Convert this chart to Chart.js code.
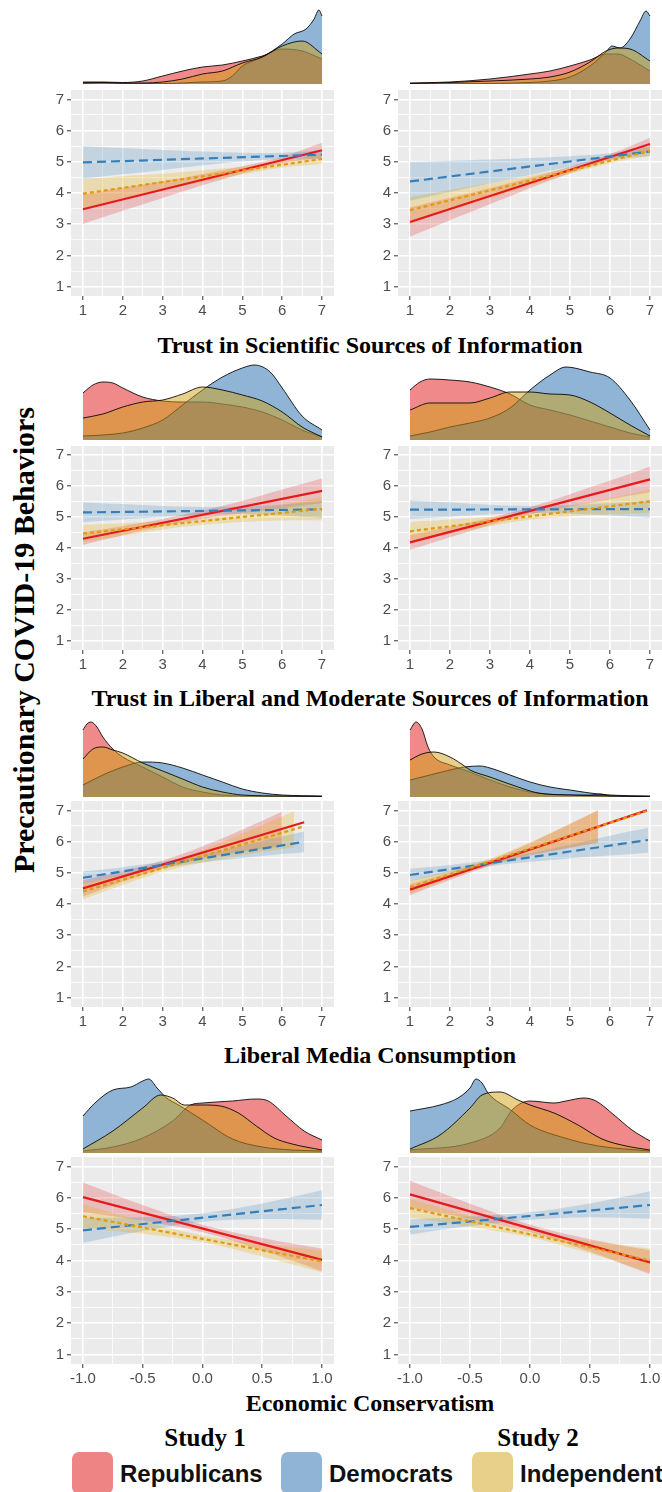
<!DOCTYPE html>
<html>
<head>
<meta charset="utf-8">
<script src="https://cdn.jsdelivr.net/npm/chart.js@4.4.1/dist/chart.umd.min.js"></script>
<style>
  html, body { margin: 0; padding: 0; background: #ffffff; }
  body { width: 662px; height: 1492px; position: relative; overflow: hidden; }
  canvas { position: absolute; }
  .ttl { position: absolute; white-space: nowrap; transform: translate(-50%, -50%);
         font-family: "Liberation Serif", "Times New Roman", serif; font-weight: bold;
         color: #000; line-height: 1; }
  .ytitle { transform: translate(-50%, -50%) rotate(-90deg); }
  .key { position: absolute; width: 41px; height: 42px; border-radius: 7px; }
  .keylab { position: absolute; white-space: nowrap; transform: translateY(-50%);
            font-family: "Liberation Sans", Arial, sans-serif; font-weight: bold;
            font-size: 24px; line-height: 1; color: #111; }
</style>
</head>
<body>
<script>
// ---------- axis ticks ----------
const trustTicks = [1, 2, 3, 4, 5, 6, 7];
const econTicks = [-1, -0.5, 0, 0.5, 1];
const outcomeTicks = [1, 2, 3, 4, 5, 6, 7];
const groups = ['Republicans', 'Democrats', 'Independent'];

// ---------- fitted lines [x, y] and confidence bands [x, lower, upper] ----------
// Trust in scientific sources, Study 1
const sci1RepFit = [[1, 3.48], [7, 5.37]];
const sci1RepBand = [[1, 3.01, 3.95], [2, 3.43, 4.17], [3, 3.84, 4.38], [4, 4.25, 4.61], [5, 4.62, 4.86], [6, 4.96, 5.16], [7, 5.13, 5.61]];
const sci1DemFit = [[1, 4.98], [7, 5.23]];
const sci1DemBand = [[1, 4.46, 5.50], [2, 4.60, 5.44], [3, 4.74, 5.38], [4, 4.89, 5.33], [5, 5.01, 5.29], [6, 5.09, 5.29], [7, 5.09, 5.37]];
const sci1IndFit = [[1, 3.98], [7, 5.09]];
const sci1IndBand = [[1, 3.51, 4.45], [2, 3.80, 4.54], [3, 4.08, 4.62], [4, 4.35, 4.73], [5, 4.60, 4.84], [6, 4.82, 5.00], [7, 4.94, 5.24]];
// Trust in scientific sources, Study 2
const sci2RepFit = [[1, 3.07], [7, 5.57]];
const sci2RepBand = [[1, 2.60, 3.54], [2, 3.13, 3.85], [3, 3.64, 4.16], [4, 4.15, 4.49], [5, 4.63, 4.85], [6, 5.06, 5.24], [7, 5.37, 5.77]];
const sci2DemFit = [[1, 4.37], [7, 5.33]];
const sci2DemBand = [[1, 3.75, 4.99], [2, 4.03, 5.03], [3, 4.31, 5.07], [4, 4.58, 5.12], [5, 4.84, 5.18], [6, 5.07, 5.27], [7, 5.18, 5.48]];
const sci2IndFit = [[1, 3.45], [7, 5.35]];
const sci2IndBand = [[1, 3.03, 3.87], [2, 3.44, 4.10], [3, 3.84, 4.32], [4, 4.24, 4.56], [5, 4.62, 4.82], [6, 4.95, 5.11], [7, 5.20, 5.50]];
// Trust in liberal and moderate sources, Study 1
const lib1RepFit = [[1, 4.30], [7, 5.85]];
const lib1RepBand = [[1, 4.10, 4.50], [2, 4.41, 4.71], [3, 4.70, 4.94], [4, 4.95, 5.21], [5, 5.13, 5.53], [6, 5.29, 5.89], [7, 5.45, 6.25]];
const lib1DemFit = [[1, 5.15], [7, 5.25]];
const lib1DemBand = [[1, 4.83, 5.47], [2, 4.92, 5.42], [3, 5.00, 5.36], [4, 5.07, 5.33], [5, 5.10, 5.34], [6, 5.05, 5.41], [7, 4.97, 5.53]];
const lib1IndFit = [[1, 4.47], [7, 5.27]];
const lib1IndBand = [[1, 4.19, 4.75], [2, 4.40, 4.80], [3, 4.60, 4.88], [4, 4.75, 4.99], [5, 4.84, 5.16], [6, 4.89, 5.39], [7, 4.89, 5.65]];
// Trust in liberal and moderate sources, Study 2
const lib2RepFit = [[1, 4.18], [7, 6.22]];
const lib2RepBand = [[1, 3.94, 4.42], [2, 4.35, 4.69], [3, 4.74, 4.98], [4, 5.08, 5.32], [5, 5.34, 5.74], [6, 5.58, 6.18], [7, 5.80, 6.64]];
const lib2DemFit = [[1, 5.24], [7, 5.26]];
const lib2DemBand = [[1, 4.94, 5.54], [2, 5.01, 5.47], [3, 5.08, 5.40], [4, 5.13, 5.36], [5, 5.11, 5.39], [6, 5.05, 5.45], [7, 4.98, 5.54]];
const lib2IndFit = [[1, 4.54], [7, 5.51]];
const lib2IndBand = [[1, 4.24, 4.84], [2, 4.48, 4.92], [3, 4.71, 5.01], [4, 4.91, 5.15], [5, 5.02, 5.36], [6, 5.09, 5.61], [7, 5.13, 5.89]];
// Liberal media consumption, Study 1
const med1RepFit = [[1, 4.50], [6.55, 6.62]];
const med1RepBand = [[1, 4.24, 4.76], [2, 4.71, 5.05], [3, 5.13, 5.39], [4, 5.45, 5.85], [5, 5.68, 6.38], [6, 5.86, 6.96]];
const med1DemFit = [[1, 4.84], [6.55, 5.99]];
const med1DemBand = [[1, 4.64, 5.04], [2, 4.92, 5.18], [3, 5.15, 5.35], [4, 5.33, 5.59], [5, 5.47, 5.87], [6, 5.60, 6.16], [6.55, 5.66, 6.32]];
const med1IndFit = [[1, 4.40], [6.55, 6.49]];
const med1IndBand = [[1, 4.15, 4.65], [2, 4.61, 4.95], [3, 5.03, 5.27], [4, 5.33, 5.73], [5, 5.56, 6.26], [6, 5.76, 6.80], [6.3, 5.82, 6.98]];
// Liberal media consumption, Study 2
const med2RepFit = [[1, 4.46], [6.92, 7.0]];
const med2RepBand = [[1, 4.28, 4.64], [2, 4.77, 5.01], [3, 5.22, 5.42], [4, 5.55, 5.95], [5, 5.80, 6.56], [5.7, 5.96, 7.0]];
const med2DemFit = [[1, 4.93], [6.95, 6.05]];
const med2DemBand = [[1, 4.73, 5.13], [2, 4.99, 5.25], [3, 5.21, 5.41], [4, 5.35, 5.63], [5, 5.46, 5.90], [6, 5.55, 6.19], [6.95, 5.64, 6.44]];
const med2IndFit = [[1, 4.54], [6.9, 6.97]];
const med2IndBand = [[1, 4.34, 4.74], [2, 4.82, 5.08], [3, 5.26, 5.46], [4, 5.58, 5.98], [5, 5.81, 6.57], [5.7, 5.96, 7.0]];
// Economic conservatism, Study 1
const eco1RepFit = [[-1, 6.02], [1, 4.02]];
const eco1RepBand = [[-1, 5.55, 6.49], [-0.5, 5.27, 5.77], [0, 4.90, 5.14], [0.5, 4.32, 4.72], [1, 3.66, 4.38]];
const eco1DemFit = [[-1, 4.96], [1, 5.77]];
const eco1DemBand = [[-1, 4.56, 5.36], [-0.5, 4.94, 5.38], [0, 5.23, 5.51], [0.5, 5.32, 5.82], [1, 5.30, 6.24]];
const eco1IndFit = [[-1, 5.41], [1, 3.97]];
const eco1IndBand = [[-1, 5.03, 5.79], [-0.5, 4.85, 5.25], [0, 4.58, 4.80], [0.5, 4.13, 4.53], [1, 3.62, 4.32]];
// Economic conservatism, Study 2
const eco2RepFit = [[-1, 6.11], [1, 3.94]];
const eco2RepBand = [[-1, 5.68, 6.54], [-0.5, 5.33, 5.81], [0, 4.91, 5.15], [0.5, 4.28, 4.68], [1, 3.56, 4.32]];
const eco2DemFit = [[-1, 5.07], [1, 5.77]];
const eco2DemBand = [[-1, 4.83, 5.31], [-0.5, 5.10, 5.40], [0, 5.30, 5.54], [0.5, 5.38, 5.82], [1, 5.33, 6.21]];
const eco2IndFit = [[-1, 5.67], [1, 4.00]];
const eco2IndBand = [[-1, 5.37, 5.97], [-0.5, 5.08, 5.42], [0, 4.74, 4.94], [0.5, 4.22, 4.62], [1, 3.62, 4.38]];

// ---------- marginal densities [x, height] ----------
const sci1RepDens = [[1, 2], [1.5, 2], [2, 1.5], [2.5, 3], [3, 8], [3.5, 13], [4, 17], [4.5, 19], [5, 23], [5.5, 28], [6, 35], [6.5, 33], [7, 25]];
const sci1DemDens = [[1, 1], [1.5, 1], [2, 0.5], [2.5, 0.5], [3, 0.5], [3.5, 1], [4, 2], [4.5, 3], [4.75, 8], [5, 18], [5.5, 27], [6, 40], [6.3, 50], [6.6, 55], [6.8, 65], [6.92, 74], [7, 68]];
const sci1IndDens = [[1, 1], [1.5, 1.5], [2, 1], [2.5, 1], [3, 2], [3.5, 5], [4, 10], [4.5, 13], [5, 21], [5.5, 27], [6, 38], [6.5, 43], [7, 30]];
const sci2RepDens = [[1, 1], [2, 2], [3, 5], [4, 10], [4.5, 13], [5, 18], [5.5, 24], [5.9, 30], [6.2, 30], [6.5, 25], [7, 13]];
const sci2DemDens = [[1, 0.2], [2, 0.3], [3, 0.5], [4, 1.5], [4.5, 3], [5, 7], [5.5, 18], [5.9, 32], [6.05, 38], [6.25, 36], [6.5, 45], [6.75, 63], [6.9, 73], [7, 68]];
const sci2IndDens = [[1, 0.5], [2, 1.5], [3, 3], [4, 5], [4.5, 7], [5, 12], [5.5, 22], [5.9, 33], [6.2, 36], [6.5, 35], [7, 23]];
const lib1RepDens = [[1, 47], [1.25, 55], [1.5, 58], [1.75, 57], [2, 52], [2.5, 43], [3, 39], [3.5, 38], [4, 38], [4.5, 36], [5, 33], [5.5, 28], [6, 20], [6.5, 10], [7, 3]];
const lib1DemDens = [[1, 4], [1.5, 5], [2, 7], [2.5, 12], [3, 20], [3.5, 35], [4, 50], [4.5, 63], [5, 72], [5.3, 75], [5.7, 68], [6, 52], [6.5, 24], [7, 10]];
const lib1IndDens = [[1, 22], [1.5, 26], [2, 33], [2.5, 38], [3, 40], [3.5, 46], [4, 53], [4.5, 50], [5, 45], [5.5, 39], [6, 28], [6.5, 13], [7, 3]];
const lib2RepDens = [[1, 50], [1.25, 58], [1.5, 61], [2, 60], [2.5, 58], [3, 53], [3.5, 46], [4, 35], [4.5, 30], [5, 25], [5.5, 19], [6, 13], [6.5, 7], [7, 3]];
const lib2DemDens = [[1, 4], [1.5, 8], [2, 13], [2.5, 17], [3, 22], [3.5, 32], [4, 50], [4.5, 65], [4.9, 73], [5.5, 68], [6, 62], [6.5, 40], [7, 10]];
const lib2IndDens = [[1, 30], [1.5, 37], [2, 37], [2.5, 37], [3, 42], [3.5, 48], [4, 48], [4.5, 46], [5, 45], [5.5, 38], [6, 27], [6.5, 15], [7, 4]];
const med1RepDens = [[1, 67], [1.1, 73], [1.2, 75], [1.35, 70], [1.5, 60], [1.75, 48], [2, 40], [2.5, 30], [3, 20], [3.5, 10], [4, 5], [4.5, 2], [5, 1], [6, 0.5], [7, 0.3]];
const med1DemDens = [[1, 12], [1.5, 22], [2, 30], [2.5, 35], [3, 34], [3.5, 29], [4, 22], [4.5, 15], [5, 8], [5.5, 4], [6, 2], [7, 1]];
const med1IndDens = [[1, 38], [1.25, 48], [1.5, 50], [1.75, 47], [2, 44], [2.5, 34], [3, 26], [3.5, 18], [4, 10], [4.5, 5], [5, 2], [6, 1], [7, 0.5]];
const med2RepDens = [[1, 67], [1.15, 75], [1.3, 68], [1.45, 50], [1.6, 40], [2, 32], [2.5, 25], [3, 17], [3.5, 10], [4, 5], [5, 2], [5.5, 2], [5.75, 3], [6, 1], [7, 0.3]];
const med2DemDens = [[1, 17], [1.5, 22], [2, 27], [2.36, 30], [2.75, 31], [3, 29], [3.5, 22], [4, 15], [4.5, 10], [5, 7], [5.5, 4], [6, 2], [7, 1]];
const med2IndDens = [[1, 37], [1.3, 43], [1.6, 45], [2, 40], [2.36, 31], [2.5, 27], [3, 20], [3.7, 10], [4.2, 4], [5, 2], [6, 1], [7, 0.3]];
const eco1RepDens = [[-1, 2], [-0.75, 6], [-0.5, 15], [-0.25, 32], [-0.1, 48], [0, 50], [0.25, 52], [0.45, 54], [0.55, 52], [0.7, 37], [0.85, 22], [1, 13]];
const eco1DemDens = [[-1, 37], [-0.9, 50], [-0.75, 63], [-0.6, 66], [-0.5, 72], [-0.45, 74], [-0.38, 65], [-0.3, 55], [-0.2, 48], [0, 33], [0.25, 14], [0.5, 6], [0.75, 3], [1, 2]];
const eco1IndDens = [[-1, 4], [-0.75, 22], [-0.5, 45], [-0.35, 58], [-0.25, 55], [-0.15, 48], [0, 48], [0.15, 47], [0.3, 40], [0.45, 27], [0.6, 15], [0.75, 9], [1, 3]];
const eco2RepDens = [[-1, 3], [-0.5, 10], [-0.25, 25], [-0.15, 43], [0, 52], [0.2, 50], [0.3, 52], [0.45, 55], [0.55, 52], [0.7, 38], [0.85, 23], [1, 12]];
const eco2DemDens = [[-1, 42], [-0.75, 48], [-0.6, 55], [-0.5, 65], [-0.45, 74], [-0.4, 70], [-0.35, 60], [-0.16, 43], [0, 28], [0.29, 15], [0.57, 7], [1, 2]];
const eco2IndDens = [[-1, 4], [-0.75, 18], [-0.5, 45], [-0.4, 58], [-0.25, 61], [-0.1, 53], [0, 48], [0.2, 40], [0.4, 28], [0.6, 14], [0.8, 7], [1, 3]];

// ---------- text ----------
const rowTitles = ['Trust in Scientific Sources of Information',
                   'Trust in Liberal and Moderate Sources of Information',
                   'Liberal Media Consumption',
                   'Economic Conservatism'];
const studyLabels = ['Study 1', 'Study 2'];
const outcomeTitle = 'Precautionary COVID-19 Behaviors';

// ---------- styling ----------
const densFill = ['rgba(224,20,22,0.5)', 'rgba(31,105,173,0.5)', 'rgba(209,161,21,0.5)'];
const lineCol = ['#E41A1C', '#377EB8', '#E09A0C'];
const bandCol = ['rgba(228,26,28,0.22)', 'rgba(55,126,184,0.22)', 'rgba(230,171,2,0.26)'];
const lineDash = [[], [9, 5], [4, 3]];
const keyCol = ['#EF8484', '#8FB4D6', '#E8D08A'];

// panel geometry: rows (density top, plot top, plot height) and columns
const rowGeom = [
  { dens: 4, top: 90, h: 206 },
  { dens: 360, top: 446, h: 204 },
  { dens: 717, top: 801, h: 206 },
  { dens: 1073, top: 1157, h: 207 }
];
const colGeom = [{ left: 40, w: 294 }, { left: 367, w: 295 }];
const YAXIS_W = 31, XAXIS_H = 26, DENS_H = 80;

const panels = [
  { r: 0, c: 0, xt: trustTicks, fits: [sci1RepFit, sci1DemFit, sci1IndFit], bands: [sci1RepBand, sci1DemBand, sci1IndBand], dens: [sci1RepDens, sci1DemDens, sci1IndDens] },
  { r: 0, c: 1, xt: trustTicks, fits: [sci2RepFit, sci2DemFit, sci2IndFit], bands: [sci2RepBand, sci2DemBand, sci2IndBand], dens: [sci2RepDens, sci2DemDens, sci2IndDens] },
  { r: 1, c: 0, xt: trustTicks, fits: [lib1RepFit, lib1DemFit, lib1IndFit], bands: [lib1RepBand, lib1DemBand, lib1IndBand], dens: [lib1RepDens, lib1DemDens, lib1IndDens] },
  { r: 1, c: 1, xt: trustTicks, fits: [lib2RepFit, lib2DemFit, lib2IndFit], bands: [lib2RepBand, lib2DemBand, lib2IndBand], dens: [lib2RepDens, lib2DemDens, lib2IndDens] },
  { r: 2, c: 0, xt: trustTicks, fits: [med1RepFit, med1DemFit, med1IndFit], bands: [med1RepBand, med1DemBand, med1IndBand], dens: [med1RepDens, med1DemDens, med1IndDens] },
  { r: 2, c: 1, xt: trustTicks, fits: [med2RepFit, med2DemFit, med2IndFit], bands: [med2RepBand, med2DemBand, med2IndBand], dens: [med2RepDens, med2DemDens, med2IndDens] },
  { r: 3, c: 0, xt: econTicks, fits: [eco1RepFit, eco1DemFit, eco1IndFit], bands: [eco1RepBand, eco1DemBand, eco1IndBand], dens: [eco1RepDens, eco1DemDens, eco1IndDens] },
  { r: 3, c: 1, xt: econTicks, fits: [eco2RepFit, eco2DemFit, eco2IndFit], bands: [eco2RepBand, eco2DemBand, eco2IndBand], dens: [eco2RepDens, eco2DemDens, eco2IndDens] }
];

Chart.defaults.font.family = '"Liberation Sans", Arial, sans-serif';

// grey panel background
const panelBg = {
  id: 'panelBg',
  beforeDraw(chart) {
    const a = chart.chartArea, ctx = chart.ctx;
    ctx.save();
    ctx.fillStyle = '#EBEBEB';
    ctx.fillRect(a.left, a.top, a.right - a.left, a.bottom - a.top);
    ctx.restore();
  }
};

// padded range (5% of data range each side) and major + minor positions
function padRange(ticks) {
  const lo = ticks[0], hi = ticks[ticks.length - 1], d = (hi - lo) * 0.05;
  return [lo - d, hi + d];
}
function withMinor(ticks) {
  const out = [];
  ticks.forEach((v, i) => {
    out.push(v);
    if (i < ticks.length - 1) out.push((v + ticks[i + 1]) / 2);
  });
  return out;
}
function axisOpts(ticks, fmt, horizontal) {
  const [mn, mx] = padRange(ticks);
  const all = withMinor(ticks);
  const isMajor = v => ticks.some(t => Math.abs(t - v) < 1e-9);
  return {
    type: 'linear', min: mn, max: mx,
    afterBuildTicks: s => { s.ticks = all.map(v => ({ value: v })); },
    afterFit: s => {
      s.paddingLeft = 0; s.paddingRight = 0; s.paddingTop = 0; s.paddingBottom = 0;
      if (horizontal) s.height = XAXIS_H; else s.width = YAXIS_W;
    },
    ticks: {
      autoSkip: false, maxRotation: 0, minRotation: 0, padding: horizontal ? 2 : 3,
      color: '#4D4D4D', font: { size: 15 },
      callback: v => isMajor(v) ? fmt(v) : ''
    },
    grid: {
      color: '#FFFFFF',
      lineWidth: c => (c.tick && isMajor(c.tick.value)) ? 1.6 : 0.8,
      drawTicks: true, tickLength: 4, tickWidth: 1,
      tickColor: c => (c.tick && isMajor(c.tick.value)) ? '#333333' : 'rgba(0,0,0,0)'
    },
    border: { display: false }
  };
}

function makeCanvas(left, top, w, h) {
  const cv = document.createElement('canvas');
  cv.width = w; cv.height = h;
  cv.style.left = left + 'px'; cv.style.top = top + 'px';
  cv.style.width = w + 'px'; cv.style.height = h + 'px';
  document.body.appendChild(cv);
  return cv;
}

const baseOpts = {
  responsive: false, animation: false, devicePixelRatio: 1, events: [],
  layout: { padding: 0 },
  plugins: { legend: { display: false }, tooltip: { enabled: false } }
};

panels.forEach(p => {
  const rg = rowGeom[p.r], cg = colGeom[p.c];
  const econ = p.xt === econTicks;
  const fmtX = econ ? (v => v.toFixed(1)) : (v => String(v));
  const [xmn, xmx] = padRange(p.xt);

  // ---- marginal density (red drawn first, gold on top) ----
  const dcv = makeCanvas(cg.left + YAXIS_W, rg.dens, cg.w - YAXIS_W, DENS_H);
  const densSets = [2, 1, 0].map(g => ({
    data: p.dens[g].map(d => ({ x: d[0], y: d[1] })),
    backgroundColor: densFill[g], borderColor: 'rgba(0,0,0,0.85)', borderWidth: 1,
    fill: 'origin', pointRadius: 0, cubicInterpolationMode: 'monotone'
  }));
  new Chart(dcv, {
    type: 'line',
    data: { datasets: densSets },
    options: Object.assign({}, baseOpts, {
      scales: {
        x: { type: 'linear', display: false, min: xmn, max: xmx },
        y: { display: false, min: 0, max: DENS_H }
      }
    })
  });

  // ---- fitted lines with confidence bands ----
  const rcv = makeCanvas(cg.left, rg.top, cg.w, rg.h + XAXIS_H);
  const sets = [];
  [0, 1, 2].forEach(g => {
    const b = p.bands[g];
    sets.push({
      data: b.map(d => ({ x: d[0], y: d[1] })), borderWidth: 0, pointRadius: 0,
      fill: false, order: 9 - g, tension: 0.35
    });
    sets.push({
      data: b.map(d => ({ x: d[0], y: d[2] })), borderWidth: 0, pointRadius: 0,
      fill: '-1', backgroundColor: bandCol[g], order: 9 - g, tension: 0.35
    });
  });
  [0, 1, 2].forEach(g => {
    sets.push({
      data: p.fits[g].map(d => ({ x: d[0], y: d[1] })),
      borderColor: lineCol[g], borderWidth: 2.2, borderDash: lineDash[g],
      pointRadius: 0, fill: false, order: 3 - g
    });
  });
  new Chart(rcv, {
    type: 'line',
    data: { datasets: sets },
    options: Object.assign({}, baseOpts, {
      scales: {
        x: axisOpts(p.xt, fmtX, true),
        y: axisOpts(outcomeTicks, v => String(v), false)
      }
    }),
    plugins: [panelBg]
  });
});

// ---------- titles, study labels, legend ----------
function addText(txt, x, y, size, cls) {
  const d = document.createElement('div');
  d.className = 'ttl' + (cls ? ' ' + cls : '');
  d.style.left = x + 'px'; d.style.top = y + 'px'; d.style.fontSize = size + 'px';
  d.textContent = txt;
  document.body.appendChild(d);
}
const titleY = [345, 698, 1055, 1403];
rowTitles.forEach((t, i) => addText(t, 370, titleY[i], 24));
addText(outcomeTitle, 24, 640, 30, 'ytitle');
addText(studyLabels[0], 205, 1437, 25);
addText(studyLabels[1], 538, 1437, 25);

const keyX = [72, 281, 472];
groups.forEach((g, i) => {
  const k = document.createElement('div');
  k.className = 'key';
  k.style.left = keyX[i] + 'px'; k.style.top = '1452px'; k.style.background = keyCol[i];
  document.body.appendChild(k);
  const l = document.createElement('div');
  l.className = 'keylab';
  l.style.left = (keyX[i] + 48) + 'px'; l.style.top = '1474px';
  l.textContent = g;
  document.body.appendChild(l);
});
</script>
</body>
</html>
